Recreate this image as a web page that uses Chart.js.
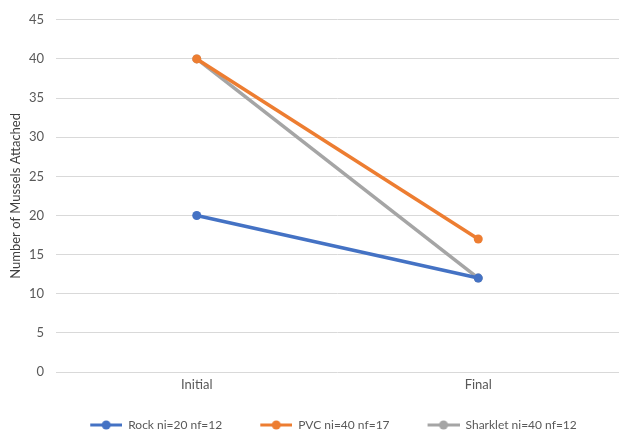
<!DOCTYPE html>
<html>
<head>
<meta charset="utf-8">
<script src="https://cdn.jsdelivr.net/npm/chart.js@4.4.1/dist/chart.umd.min.js"></script>
<style>
  html, body { margin: 0; padding: 0; background: #fff; }
  #wrap { width: 619px; height: 432px; }
</style>
</head>
<body>
<div id="wrap"><canvas id="mussels" width="619" height="432"></canvas></div>
<script>
var stages = ["Initial", "Final"];
var rock = [20, 12];
var pvc = [40, 17];
var sharklet = [40, 12];
var seriesNames = ["Rock ni=20 nf=12", "PVC ni=40 nf=17", "Sharklet ni=40 nf=12"];
var yTicks = [0, 5, 10, 15, 20, 25, 30, 35, 40, 45];

var textColor = "#595959";
var fontFamily = "Lato, 'Open Sans', sans-serif";

// legend marker: a line with a dot, with blank room on its left for item spacing
function legendMark(color) {
    var c = document.createElement("canvas");
    c.width = 60; c.height = 12;
    var g = c.getContext("2d");
    g.strokeStyle = color;
    g.lineWidth = 3;
    g.beginPath();
    g.moveTo(28, 6); g.lineTo(60, 6);
    g.stroke();
    g.fillStyle = color;
    g.beginPath();
    g.arc(44, 6, 4.5, 0, Math.PI * 2);
    g.fill();
    return c;
}

function series(label, values, color) {
    return {
        label: label,
        data: values,
        borderColor: color,
        backgroundColor: color,
        borderWidth: 3.5,
        pointRadius: 4.5,
        pointHoverRadius: 4.5,
        pointBorderWidth: 0,
        pointStyle: "circle",
        legendMark: legendMark(color),
        tension: 0
    };
}

// nudge the legend row to where the original sits
var legendNudge = {
    id: "legendNudge",
    afterLayout: function (chart) {
        var lg = chart.legend;
        if (!lg) return;
        lg.left += 7; lg.right += 7;
        lg.top += 9; lg.bottom += 9;
    }
};

var ctx = document.getElementById("mussels").getContext("2d");
var chart = new Chart(ctx, {
    type: "line",
    data: {
        labels: stages,
        datasets: [
            series(seriesNames[0], rock, "#4472C4"),
            series(seriesNames[1], pvc, "#ED7D31"),
            series(seriesNames[2], sharklet, "#A5A5A5")
        ]
    },
    plugins: [legendNudge],
    options: {
        responsive: false,
        animation: false,
        events: [],
        layout: { autoPadding: false, padding: { top: 18, right: -6, left: 0, bottom: 0 } },
        plugins: {
            tooltip: { enabled: false },
            legend: {
                position: "bottom",
                labels: {
                    color: textColor,
                    font: { family: fontFamily, size: 12 },
                    usePointStyle: true,
                    pointStyleWidth: 60,
                    padding: 10,
                    generateLabels: function (chart) {
                        return chart.data.datasets.map(function (ds, i) {
                            return {
                                text: ds.label,
                                fontColor: textColor,
                                pointStyle: ds.legendMark,
                                lineWidth: 0,
                                datasetIndex: i
                            };
                        });
                    }
                }
            }
        },
        scales: {
            x: {
                offset: true,
                grid: { display: false, drawTicks: false },
                border: { display: false },
                ticks: { color: textColor, font: { family: fontFamily, size: 13 }, padding: 5, maxRotation: 0 },
                afterFit: function (s) { s.height = 28; }
            },
            y: {
                min: 0,
                max: 45,
                afterBuildTicks: function (s) {
                    s.ticks = yTicks.map(function (v) { return { value: v }; });
                },
                grid: { color: "#D9D9D9", lineWidth: 1, drawTicks: false },
                border: { display: false },
                ticks: { color: textColor, font: { family: fontFamily, size: 13 }, padding: 12 },
                title: {
                    display: true,
                    text: "Number of Mussels Attached",
                    color: "#404040",
                    font: { family: fontFamily, size: 13 },
                    padding: { top: 8, bottom: 0 }
                },
                afterFit: function (s) { s.width = 56; }
            }
        }
    }
});
</script>
</body>
</html>
